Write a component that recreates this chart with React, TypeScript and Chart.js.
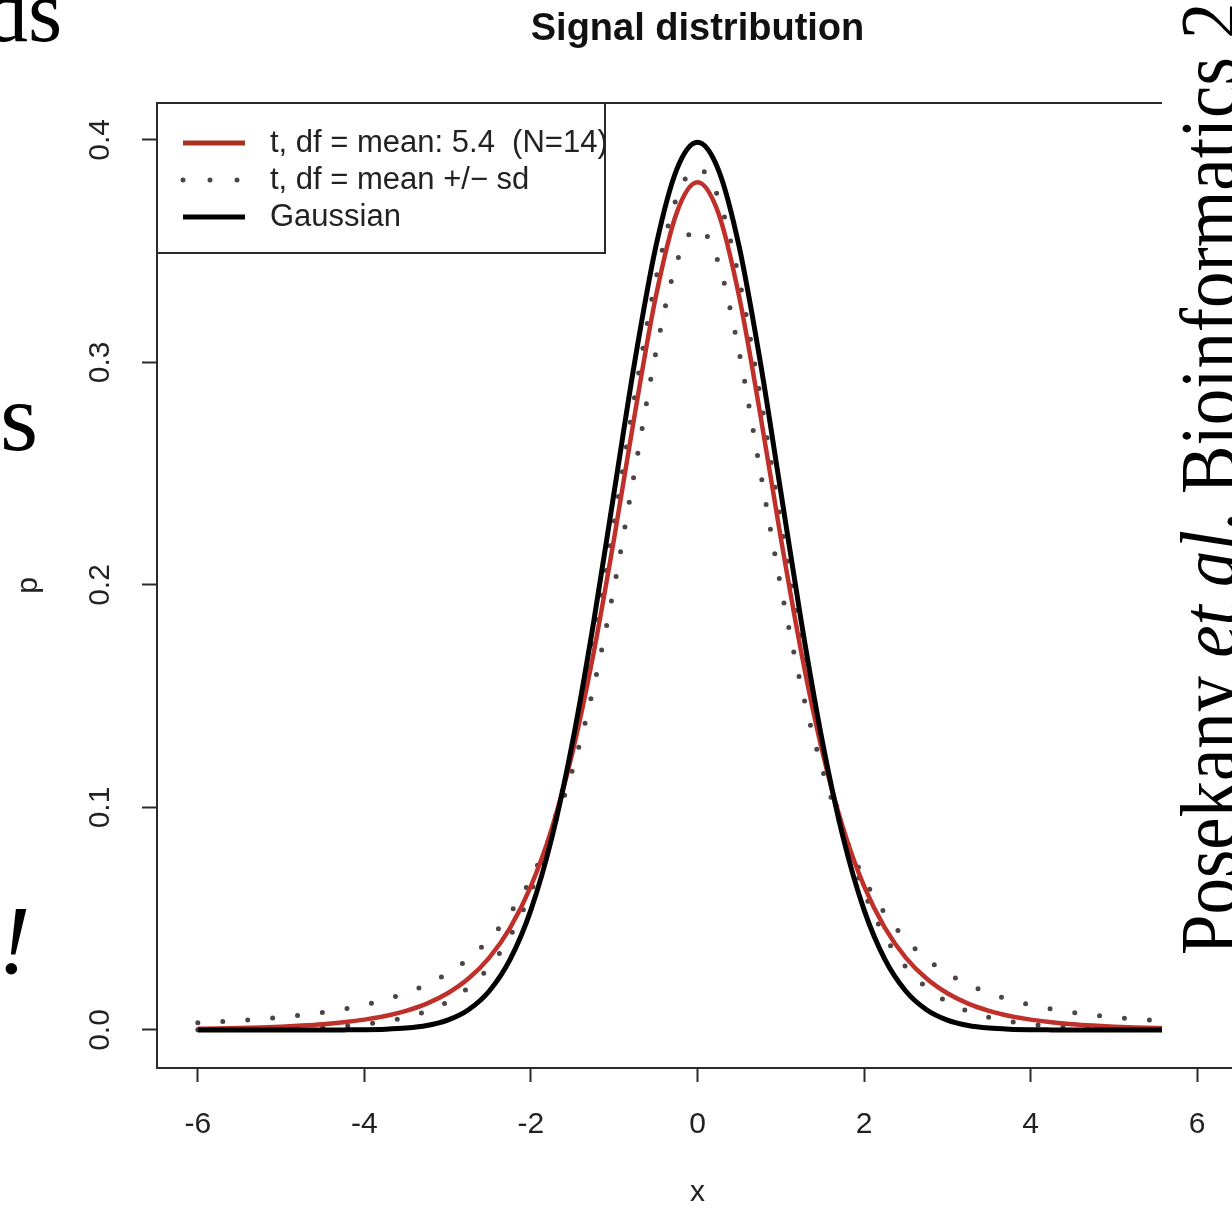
import React, { useEffect, useRef } from "react";
import { Chart, registerables } from "chart.js";
Chart.register(...registerables);

// ---------- data ----------
const xValues = [
  -6, -5.75, -5.5, -5.25, -5, -4.75, -4.5, -4.25, -4, -3.75, -3.5, -3.25, -3, -2.75, -2.5, -2.25,
  -2, -1.75, -1.5, -1.25, -1, -0.75, -0.5, -0.25, 0, 0.25, 0.5, 0.75, 1, 1.25, 1.5, 1.75, 2,
  2.25, 2.5, 2.75, 3, 3.25, 3.5, 3.75, 4, 4.25, 4.5, 4.75, 5, 5.25, 5.5, 5.75, 6,
];

const tMeanValues = [
  0.00056, 0.00071, 0.00091, 0.00117, 0.00151, 0.00198, 0.0026, 0.00346, 0.00465, 0.0063, 0.00861,
  0.01187, 0.01651, 0.02311, 0.03253, 0.04589, 0.06465, 0.09048, 0.12498, 0.16894, 0.2212, 0.27747,
  0.32962, 0.36722, 0.38099, 0.36722, 0.32962, 0.27747, 0.2212, 0.16894, 0.12498, 0.09048, 0.06465,
  0.04589, 0.03253, 0.02311, 0.01651, 0.01187, 0.00861, 0.0063, 0.00465, 0.00346, 0.0026, 0.00198,
  0.00151, 0.00117, 0.00091, 0.00071, 0.00056,
];

const tLowValues = [
  0.00324, 0.0037, 0.00426, 0.00493, 0.00574, 0.00673, 0.00793, 0.00943, 0.0113, 0.01365, 0.01664,
  0.02049, 0.02549, 0.03205, 0.04077, 0.05239, 0.06802, 0.08904, 0.11708, 0.15367, 0.19935, 0.25196,
  0.30453, 0.34499, 0.3604, 0.34499, 0.30453, 0.25196, 0.19935, 0.15367, 0.11708, 0.08904, 0.06802,
  0.05239, 0.04077, 0.03205, 0.02549, 0.02049, 0.01664, 0.01365, 0.0113, 0.00943, 0.00793, 0.00673,
  0.00574, 0.00493, 0.00426, 0.0037, 0.00324,
];

const tHighValues = [
  0.00015, 0.00021, 0.0003, 0.00042, 0.00059, 0.00084, 0.00121, 0.00176, 0.00258, 0.0038, 0.00565,
  0.00843, 0.01263, 0.01904, 0.02836, 0.04219, 0.0621, 0.08985, 0.12694, 0.1737, 0.22826, 0.28559,
  0.33741, 0.37402, 0.38728, 0.37402, 0.33741, 0.28559, 0.22826, 0.1737, 0.12694, 0.08985, 0.0621,
  0.04219, 0.02836, 0.01904, 0.01263, 0.00843, 0.00565, 0.0038, 0.00258, 0.00176, 0.00121, 0.00084,
  0.00059, 0.00042, 0.0003, 0.00021, 0.00015,
];

const gaussianValues = [
  0, 0, 0, 0, 0, 0.00001, 0.00002, 0.00005, 0.00013, 0.00035, 0.00087, 0.00203, 0.00443, 0.00909,
  0.01753, 0.03174, 0.05399, 0.08628, 0.12952, 0.18265, 0.24197, 0.30114, 0.35207, 0.38667, 0.39894,
  0.38667, 0.35207, 0.30114, 0.24197, 0.18265, 0.12952, 0.08628, 0.05399, 0.03174, 0.01753, 0.00909,
  0.00443, 0.00203, 0.00087, 0.00035, 0.00013, 0.00005, 0.00002, 0.00001, 0, 0, 0, 0, 0,
];

const xTicks = [-6, -4, -2, 0, 2, 4, 6];
const xTickLabels = ["-6", "-4", "-2", "0", "2", "4", "6"];
const yTicks = [0, 0.1, 0.2, 0.3, 0.4];
const yTickLabels = ["0.0", "0.1", "0.2", "0.3", "0.4"];

const chartTitle = "Signal distribution";
const xAxisTitle = "x";
const yAxisTitle = "p";
const legendLabels = ["t, df = mean: 5.4  (N=14)", "t, df = mean +/\u2212 sd", "Gaussian"];

// ---------- styles ----------
const SANS = '"Liberation Sans", Arial, sans-serif';
const SERIF = '"Liberation Serif", "Times New Roman", serif';
const RED = "#c0302a";
const DOTS = "#4d4545";
const INK = "#222";

const toPoints = (vals: number[]) => xValues.map((x, i) => ({ x, y: vals[i] }));

const rLegendPlugin = {
  id: "rLegendBox",
  afterDraw(chart: any) {
    const { ctx, chartArea } = chart;
    ctx.save();
    // plot frame
    ctx.strokeStyle = "#2a2a2a";
    ctx.lineWidth = 2;
    ctx.setLineDash([]);
    ctx.strokeRect(
      chartArea.left,
      chartArea.top,
      chartArea.right - chartArea.left,
      chartArea.bottom - chartArea.top
    );
    // legend frame
    const lx = chartArea.left;
    const ly = chartArea.top;
    const lw = 448;
    const lh = 150;
    ctx.fillStyle = "#fff";
    ctx.fillRect(lx, ly, lw, lh);
    ctx.strokeRect(lx, ly, lw, lh);
    const samples = [
      { color: "#a8321f", width: 5, dash: [] as number[], cap: "butt" },
      { color: DOTS, width: 5, dash: [0, 27], cap: "round" },
      { color: "#000", width: 5, dash: [] as number[], cap: "butt" },
    ];
    legendLabels.forEach((label, i) => {
      const s = samples[i];
      const cy = ly + 40 + i * 37;
      ctx.beginPath();
      ctx.strokeStyle = s.color;
      ctx.lineWidth = s.width;
      ctx.lineCap = s.cap;
      ctx.setLineDash(s.dash);
      ctx.moveTo(lx + 26, cy);
      ctx.lineTo(lx + 88, cy);
      ctx.stroke();
      ctx.setLineDash([]);
      ctx.fillStyle = INK;
      ctx.font = `31px ${SANS}`;
      ctx.textBaseline = "middle";
      ctx.textAlign = "left";
      ctx.fillText(label, lx + 113, cy);
    });
    ctx.restore();
  },
};

function SignalChart() {
  const ref = useRef<HTMLCanvasElement | null>(null);
  useEffect(() => {
    if (!ref.current) return;
    const chart = new Chart(ref.current, {
      type: "line",
      data: {
        datasets: [
          {
            label: legendLabels[2],
            data: toPoints(gaussianValues),
            borderColor: "#000",
            borderWidth: 5,
            pointRadius: 0,
            cubicInterpolationMode: "monotone",
            order: 0,
          },
          {
            label: legendLabels[0],
            data: toPoints(tMeanValues),
            borderColor: RED,
            borderWidth: 4.5,
            pointRadius: 0,
            cubicInterpolationMode: "monotone",
            order: 1,
          },
          {
            label: legendLabels[1],
            data: toPoints(tLowValues),
            borderColor: DOTS,
            borderWidth: 5,
            borderDash: [0, 25],
            borderCapStyle: "round",
            pointRadius: 0,
            cubicInterpolationMode: "monotone",
            order: 2,
          },
          {
            label: legendLabels[1] + " ",
            data: toPoints(tHighValues),
            borderColor: DOTS,
            borderWidth: 5,
            borderDash: [0, 25],
            borderCapStyle: "round",
            pointRadius: 0,
            cubicInterpolationMode: "monotone",
            order: 3,
          },
        ],
      },
      options: {
        animation: false,
        responsive: false,
        maintainAspectRatio: false,
        events: [],
        layout: { padding: { left: 0, top: 0, right: 22, bottom: 0 } },
        plugins: {
          legend: { display: false },
          tooltip: { enabled: false },
          title: {
            display: true,
            text: chartTitle,
            fullSize: false,
            color: "#111",
            font: { family: SANS, size: 38, weight: "bold" },
            padding: { top: 7, bottom: 50.4 },
          },
        },
        scales: {
          x: {
            type: "linear",
            position: "bottom",
            min: -6.49,
            max: 6.49,
            afterBuildTicks: (s: any) => {
              s.ticks = xTicks.map((v) => ({ value: v }));
            },
            afterFit: (s: any) => {
              s.height = 162;
            },
            ticks: {
              autoSkip: false,
              maxRotation: 0,
              padding: 25,
              color: INK,
              font: { family: SANS, size: 30 },
              callback: (_v: any, i: number) => xTickLabels[i],
            },
            grid: {
              display: true,
              drawOnChartArea: false,
              drawTicks: true,
              tickLength: 14,
              tickWidth: 2,
              tickColor: "#2a2a2a",
            },
            border: { display: false },
            title: {
              display: true,
              text: xAxisTitle,
              color: INK,
              font: { family: SANS, size: 30 },
              padding: { top: 0, bottom: 19.6 },
            },
          },
          y: {
            type: "linear",
            position: "left",
            min: -0.01708,
            max: 0.4166,
            afterBuildTicks: (s: any) => {
              s.ticks = yTicks.map((v) => ({ value: v }));
            },
            afterFit: (s: any) => {
              s.width = 157;
            },
            ticks: {
              autoSkip: false,
              minRotation: 90,
              maxRotation: 90,
              crossAlign: "center",
              padding: 20,
              color: INK,
              font: { family: SANS, size: 30 },
              callback: (_v: any, i: number) => yTickLabels[i],
            },
            grid: {
              display: true,
              drawOnChartArea: false,
              drawTicks: true,
              tickLength: 15,
              tickWidth: 2,
              tickColor: "#2a2a2a",
            },
            border: { display: false },
            title: {
              display: true,
              text: yAxisTitle,
              color: INK,
              font: { family: SANS, size: 30 },
              padding: { top: 11, bottom: 0 },
            },
          },
        },
      },
      plugins: [rLegendPlugin],
    } as any);
    return () => chart.destroy();
  }, []);
  return (
    <canvas
      ref={ref}
      width={1260}
      height={1230}
      style={{ position: "absolute", left: 0, top: 0, width: 1260, height: 1230 }}
    />
  );
}

export default function App() {
  return (
    <div
      style={{
        position: "fixed",
        left: 0,
        top: 0,
        width: 1232,
        height: 1209,
        overflow: "hidden",
        background: "#fff",
      }}
    >
      <SignalChart />
      {/* slide background to the right of the plot */}
      <div
        style={{
          position: "absolute",
          left: 1162,
          top: 0,
          width: 80,
          height: 1064,
          background: "#fff",
        }}
      />
      {/* slide text fragments */}
      <div
        style={{
          position: "absolute",
          left: -16,
          top: -32,
          fontFamily: SERIF,
          fontSize: 88,
          lineHeight: "88px",
          color: "#000",
          whiteSpace: "nowrap",
        }}
      >
        ds
      </div>
      <div
        style={{
          position: "absolute",
          left: 0,
          top: 368,
          fontFamily: SERIF,
          fontSize: 98,
          lineHeight: "98px",
          color: "#000",
          whiteSpace: "nowrap",
        }}
      >
        s
      </div>
      <div
        style={{
          position: "absolute",
          left: -2,
          top: 891,
          fontFamily: SERIF,
          fontSize: 98,
          lineHeight: "98px",
          fontStyle: "italic",
          color: "#000",
          whiteSpace: "nowrap",
        }}
      >
        !
      </div>
      <div
        style={{
          position: "absolute",
          left: 1169,
          top: 955,
          transform: "rotate(-90deg) scaleX(0.91)",
          transformOrigin: "0 0",
          fontFamily: SERIF,
          fontSize: 80,
          lineHeight: "80px",
          color: "#000",
          whiteSpace: "nowrap",
        }}
      >
        Posekany <i>et al</i>. Bioinformatics 2011
      </div>
    </div>
  );
}
